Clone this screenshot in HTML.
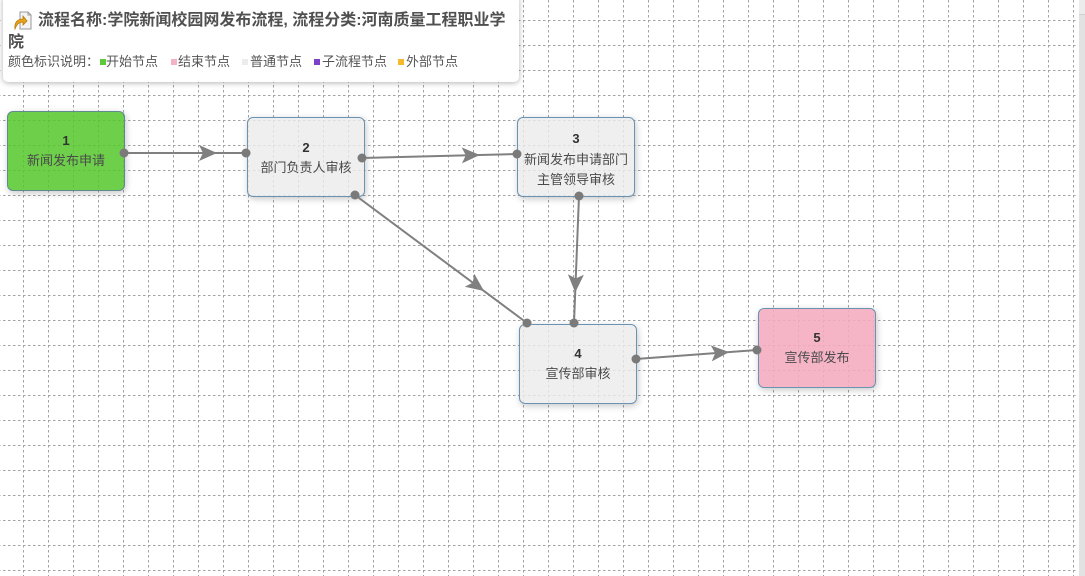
<!DOCTYPE html>
<html><head><meta charset="utf-8"><style>
html,body{margin:0;padding:0;}
body{width:1085px;height:576px;overflow:hidden;position:relative;background:#fff;font-family:"Liberation Sans","Noto Sans CJK SC",sans-serif;}
.node{position:absolute;width:118px;height:80px;box-sizing:border-box;border:1px solid #6a92b2;border-radius:6px;box-shadow:1px 2px 7px rgba(0,0,0,0.22);text-align:center;font-size:13px;line-height:20px;color:#4a4a4a;z-index:1;}
.node b{display:block;color:#333;font-weight:bold;}
.gray{background:rgba(236,236,236,0.82);}
.green{background:rgba(83,199,42,0.85);border-color:#5f8a8f;}
.pink{background:rgba(244,171,191,0.88);}
.leg{position:absolute;top:52px;line-height:20px;font-size:13px;color:#555;white-space:nowrap;z-index:4;}
.sq{position:absolute;top:59px;width:6px;height:6px;z-index:4;}
</style></head>
<body>
<svg width="1085" height="576" style="position:absolute;left:0;top:0;z-index:0">
  <defs>
    <pattern id="g" patternUnits="userSpaceOnUse" x="23" y="20" width="25" height="25">
      <line x1="0" y1="0.5" x2="25" y2="0.5" stroke="#a2a2a2" stroke-width="1" stroke-dasharray="2.5,2.5"/>
      <line x1="0.5" y1="0" x2="0.5" y2="25" stroke="#a2a2a2" stroke-width="1" stroke-dasharray="2.5,2.5"/>
    </pattern>
  </defs>
  <rect x="0" y="0" width="1078" height="576" fill="url(#g)"/>
</svg>

<div class="node green" style="left:7px;top:111px;padding-top:19px"><b>1</b>新闻发布申请</div>
<div class="node gray" style="left:247px;top:117px;padding-top:20px"><b>2</b>部门负责人审核</div>
<div class="node gray" style="left:517px;top:117px;padding-top:11px;line-height:20.5px"><b>3</b>新闻发布申请部门<br>主管领导审核</div>
<div class="node gray" style="left:519px;top:324px;padding-top:19px"><b>4</b>宣传部审核</div>
<div class="node pink" style="left:758px;top:308px;padding-top:19px"><b>5</b>宣传部发布</div>

<svg width="1085" height="576" style="position:absolute;left:0;top:0;z-index:2">
  <g stroke="#808080" stroke-width="2" fill="none">
    <path d="M124 153 L246 153"/>
    <path d="M362 158 L517 154"/>
    <path d="M355 195 L527 323"/>
    <path d="M579 196 L574 323"/>
    <path d="M636 359 L757 350"/>
  </g>
  <g fill="#808080">
    <polygon points="217,153 199,145 203,153 199,161"/>
    <polygon points="479.8,155 461.6,147.4 465.8,155.3 462,163.4"/>
    <polygon points="484,291 474.3,273.8 472.8,282.6 464.8,286.7"/>
    <polygon points="575.2,292.5 567.9,274.2 575.7,278.5 583.9,274.8"/>
    <polygon points="729.2,352.1 710.7,345.4 715.2,353.1 711.8,361.4"/>
  </g>
  <g fill="#7a7a7a">
    <circle cx="124" cy="153" r="4.5"/><circle cx="246" cy="153" r="4.5"/>
    <circle cx="362" cy="158" r="4.5"/><circle cx="517" cy="154" r="4.5"/>
    <circle cx="355" cy="195" r="4.5"/><circle cx="527" cy="323" r="4.5"/>
    <circle cx="579" cy="196" r="4.5"/><circle cx="574" cy="323" r="4.5"/>
    <circle cx="636" cy="359" r="4.5"/><circle cx="757" cy="350" r="4.5"/>
  </g>
</svg>

<div style="position:absolute;left:3px;top:-5px;width:516px;height:87px;background:#fff;border-radius:5px;box-shadow:0 1px 6px rgba(0,0,0,0.3);z-index:3"></div>
<svg width="22" height="22" style="position:absolute;left:11px;top:10px;z-index:4">
  <path d="M9 2 L17 2 L20 5 L20 19 L9 19 Z" fill="#f4f4f4" stroke="#9a9a9a" stroke-width="1"/>
  <path d="M17 2 L17 5 L20 5" fill="none" stroke="#9a9a9a" stroke-width="1"/>
  <path d="M4 19 C3 12 7 9 12 9 L12 6 L16 11 L12 15 L12 12 C8 12 6 14 4 19 Z" fill="#e8a317" stroke="#b57a0a" stroke-width="0.8"/>
</svg>
<div style="position:absolute;left:38px;top:10px;font-size:16px;font-weight:bold;line-height:22px;color:#505050;white-space:nowrap;z-index:4">流程名称:学院新闻校园网发布流程, 流程分类:河南质量工程职业学</div>
<div style="position:absolute;left:8px;top:32px;font-size:16px;font-weight:bold;line-height:22px;color:#505050;white-space:nowrap;z-index:4">院</div>
<div class="leg" style="left:8px">颜色标识说明：</div>
<div class="sq" style="left:100px;background:#5cc93a"></div><div class="leg" style="left:106px">开始节点</div>
<div class="sq" style="left:171px;background:#f4b2c5"></div><div class="leg" style="left:178px">结束节点</div>
<div class="sq" style="left:242px;background:#ececec"></div><div class="leg" style="left:250px">普通节点</div>
<div class="sq" style="left:314px;background:#7e3fc9"></div><div class="leg" style="left:322px">子流程节点</div>
<div class="sq" style="left:398px;background:#f7b92b"></div><div class="leg" style="left:406px">外部节点</div>

<div style="position:absolute;left:1079px;top:0;width:6px;height:576px;background:#e2e2e2;z-index:5"></div>
<div style="position:absolute;left:1079px;top:0;width:6px;height:14px;background:#ececec;border-bottom:1px solid #d0d0d0;z-index:6"></div>
</body></html>
